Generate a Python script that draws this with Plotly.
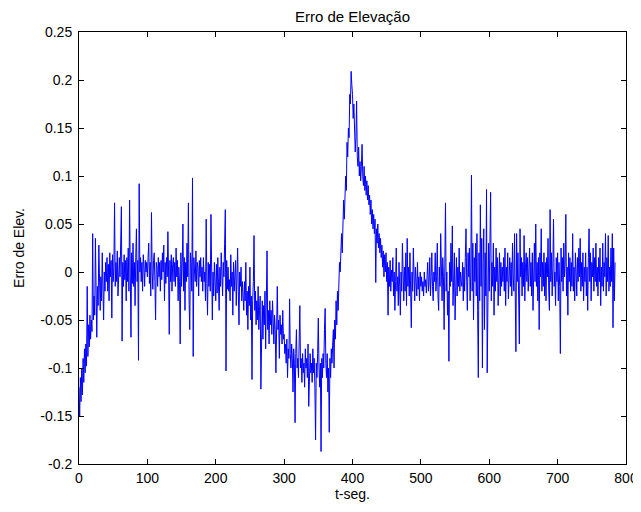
import plotly.graph_objects as go

# Estimated elevation error samples (one per second, t = 0..784 s)
erro = [
    # 0-19
    -0.120, -0.150, -0.110, -0.135, -0.100, -0.128, -0.090, -0.115, -0.080, -0.105,
    -0.075, -0.098, -0.015, -0.088, -0.055, -0.078, -0.045, -0.070, -0.050, -0.062,
    # 20-39
    0.040, -0.050, -0.025, -0.045, 0.035, -0.030, -0.068, -0.015, -0.035, 0.028,
    -0.020, -0.040, -0.005, -0.030, 0.020, -0.015, -0.050, 0.000, -0.020, 0.010,
    # 40-59
    -0.010, 0.015, -0.020, 0.008, -0.030, 0.020, -0.005, 0.012, -0.048, 0.018,
    -0.010, 0.005, 0.072, -0.015, 0.010, -0.010, 0.022, -0.025, 0.005, 0.015,
    # 60-79
    -0.005, 0.020, 0.068, -0.072, 0.010, -0.015, 0.018, -0.008, 0.012, -0.030,
    0.015, -0.010, 0.025, -0.020, 0.075, 0.000, -0.068, 0.020, -0.012, 0.030,
    # 80-99
    -0.015, 0.010, -0.035, 0.015, 0.045, -0.010, 0.012, -0.092, 0.092, 0.000,
    0.015, -0.010, 0.010, -0.020, 0.018, 0.005, -0.015, 0.012, 0.000, 0.010,
    # 100-119
    -0.005, 0.015, 0.030, -0.012, 0.010, -0.025, 0.062, 0.000, -0.018, 0.012,
    0.020, -0.010, -0.050, 0.010, 0.005, -0.015, 0.015, -0.005, 0.010, -0.020,
    # 120-139
    0.012, -0.008, 0.020, 0.000, 0.028, -0.030, 0.010, -0.012, 0.015, -0.005,
    0.042, 0.000, -0.065, 0.012, -0.010, 0.018, -0.020, 0.008, 0.015, -0.010,
    # 140-159
    0.010, -0.015, 0.025, -0.005, 0.012, -0.030, 0.005, -0.010, -0.075, 0.020,
    -0.015, 0.010, 0.050, -0.020, 0.015, -0.040, 0.010, -0.010, 0.030, -0.005,
    # 160-179
    0.072, -0.030, -0.060, 0.020, 0.010, -0.020, 0.098, -0.088, 0.015, 0.000,
    -0.010, 0.022, -0.015, 0.010, 0.005, -0.025, 0.012, -0.005, 0.015, -0.010,
    # 180-199
    0.005, -0.020, 0.015, -0.010, 0.000, -0.030, 0.055, -0.012, -0.045, 0.010,
    -0.015, 0.008, -0.020, 0.060, -0.010, -0.050, 0.000, -0.025, 0.010, -0.015,
    # 200-219
    -0.030, 0.008, -0.022, 0.015, -0.010, -0.040, 0.005, -0.015, 0.020, -0.012,
    -0.025, 0.010, -0.005, 0.030, 0.065, -0.103, 0.012, -0.018, 0.005, -0.020,
    # 220-239
    -0.008, -0.030, 0.018, -0.015, 0.000, -0.045, 0.010, -0.020, -0.005, 0.012,
    -0.035, -0.010, 0.025, -0.020, -0.055, 0.000, -0.015, 0.005, -0.030, -0.010,
    # 240-259
    -0.020, -0.040, -0.010, -0.030, 0.010, -0.045, -0.020, -0.060, -0.015, -0.035,
    0.005, -0.050, -0.025, -0.112, -0.030, -0.010, 0.038, -0.040, -0.020, -0.055,
    # 260-279
    -0.030, -0.050, -0.015, -0.060, -0.040, -0.025, -0.122, -0.045, -0.030, -0.070,
    -0.035, -0.055, -0.020, -0.080, -0.045, 0.022, -0.060, -0.040, -0.075, -0.030,
    # 280-299
    -0.055, -0.040, -0.065, -0.030, -0.050, -0.075, -0.045, -0.060, -0.105, -0.040,
    -0.015, -0.060, -0.050, -0.090, -0.045, -0.065, -0.055, -0.075, -0.040, -0.070,
    # 300-319
    -0.065, -0.085, -0.075, -0.095, -0.070, -0.110, -0.080, -0.090, -0.028, -0.085,
    -0.100, -0.075, -0.090, -0.125, -0.080, -0.095, -0.157, -0.085, -0.060, -0.100,
    # 320-339
    -0.090, -0.110, -0.080, -0.035, -0.100, -0.090, -0.115, -0.085, -0.105, -0.095,
    -0.120, -0.080, -0.100, -0.090, -0.110, -0.075, -0.140, -0.095, -0.085, -0.105,
    # 340-359
    -0.095, -0.115, -0.080, -0.105, -0.090, -0.120, -0.175, -0.095, -0.110, -0.085,
    -0.048, -0.100, -0.120, -0.095, -0.187, -0.090, -0.110, -0.085, -0.100, -0.060,
    # 360-379
    -0.038, -0.095, -0.110, -0.085, -0.125, -0.100, -0.167, -0.090, -0.110, -0.080,
    -0.095, -0.075, -0.060, -0.100, -0.050, -0.070, -0.030, -0.055, -0.020, -0.040,
    # 380-399
    -0.010, 0.010, 0.000, 0.025, 0.040, 0.020, 0.060, 0.075, 0.055, 0.095,
    0.100, 0.085, 0.135, 0.120, 0.150, 0.140, 0.185, 0.175, 0.209, 0.195,
    # 400-419
    0.185, 0.160, 0.175, 0.150, 0.125, 0.140, 0.178, 0.120, 0.110, 0.130,
    0.100, 0.115, 0.095, 0.110, 0.133, 0.100, 0.090, 0.110, 0.085, 0.100,
    # 420-439
    0.080, 0.095, 0.075, 0.090, 0.070, 0.080, 0.060, 0.075, 0.050, 0.065,
    0.045, 0.060, 0.040, 0.055, -0.011, 0.045, 0.030, 0.050, 0.025, 0.040,
    # 440-459
    0.020, 0.035, 0.015, 0.028, 0.005, 0.022, -0.005, 0.018, 0.000, 0.020,
    -0.010, 0.010, -0.045, 0.005, -0.015, 0.012, -0.020, 0.002, -0.010, 0.015,
    # 460-479
    -0.025, 0.000, -0.040, -0.010, 0.025, -0.020, -0.005, -0.035, 0.010, -0.015,
    -0.045, 0.000, -0.020, 0.030, -0.010, -0.030, 0.005, -0.020, 0.020, -0.035,
    # 480-499
    0.035, -0.015, 0.005, -0.025, 0.020, -0.010, -0.058, 0.000, -0.020, 0.025,
    -0.015, -0.030, 0.005, -0.010, -0.025, 0.010, -0.018, -0.005, -0.030, 0.000,
    # 500-519
    -0.015, -0.005, -0.020, -0.010, -0.025, 0.000, -0.015, -0.008, -0.022, -0.005,
    0.010, -0.020, -0.010, 0.015, -0.025, -0.005, 0.020, -0.015, -0.030, 0.000,
    # 520-539
    -0.010, 0.020, -0.020, -0.005, 0.030, -0.025, -0.040, 0.005, -0.015, 0.040,
    -0.010, -0.030, 0.015, -0.005, -0.060, 0.010, 0.072, -0.020, 0.000, -0.045,
    # 540-559
    -0.020, -0.093, 0.010, -0.015, 0.030, -0.010, 0.048, -0.035, -0.005, 0.020,
    -0.050, -0.010, 0.015, -0.025, 0.005, -0.015, 0.025, -0.020, 0.000, -0.010,
    # 560-579
    -0.015, 0.010, -0.030, 0.005, -0.020, 0.015, 0.045, -0.010, -0.040, 0.020,
    -0.005, 0.025, -0.030, 0.000, 0.101, -0.020, 0.030, -0.050, 0.015, -0.010,
    # 580-599
    0.030, -0.025, 0.040, -0.040, -0.110, 0.020, -0.030, 0.070, -0.015, 0.035,
    -0.100, 0.010, 0.045, -0.060, 0.020, -0.025, 0.086, -0.105, 0.005, 0.030,
    # 600-619
    -0.020, 0.015, 0.083, -0.030, 0.010, -0.015, 0.030, -0.045, 0.005, -0.020,
    0.025, -0.010, 0.015, -0.035, 0.000, 0.020, -0.025, 0.010, -0.015, 0.005,
    # 620-639
    -0.010, 0.015, -0.020, 0.025, -0.035, 0.005, -0.010, 0.020, -0.028, 0.000,
    0.015, -0.015, 0.010, -0.025, 0.030, -0.005, -0.020, 0.040, -0.010, -0.083,
    # 640-659
    0.040, -0.010, 0.020, -0.030, -0.075, 0.045, -0.005, 0.015, -0.025, 0.010,
    -0.015, 0.038, -0.030, 0.005, 0.020, -0.010, 0.015, -0.020, 0.000, 0.025,
    # 660-679
    -0.015, 0.010, -0.025, 0.020, -0.040, 0.005, 0.030, -0.010, 0.050, -0.015,
    0.010, -0.030, 0.015, -0.060, 0.020, -0.005, 0.045, -0.020, 0.010, -0.015,
    # 680-699
    0.020, -0.025, 0.010, -0.030, 0.015, -0.005, 0.035, -0.020, -0.040, 0.065,
    -0.010, 0.020, -0.025, 0.005, 0.055, -0.015, 0.000, -0.035, 0.015, -0.010,
    # 700-719
    0.020, -0.030, 0.010, -0.015, -0.085, 0.025, -0.010, 0.015, -0.020, 0.030,
    -0.005, 0.010, 0.060, -0.025, 0.005, -0.045, 0.020, -0.010, 0.015, -0.020,
    # 720-739
    0.010, -0.015, 0.040, -0.020, 0.005, -0.030, 0.020, 0.000, -0.025, 0.015,
    -0.010, 0.025, -0.005, 0.035, -0.020, 0.010, -0.015, 0.020, -0.030, 0.005,
    # 740-759
    -0.010, 0.020, -0.025, 0.005, -0.040, 0.015, 0.045, -0.010, 0.020, -0.030,
    0.010, -0.005, 0.025, -0.020, 0.015, -0.010, 0.030, -0.015, 0.005, -0.025,
    # 760-779
    0.015, -0.010, 0.025, -0.035, 0.005, -0.015, 0.030, -0.020, 0.010, -0.005,
    0.040, -0.025, 0.015, -0.010, 0.038, -0.020, 0.005, -0.015, 0.025, -0.010,
    # 780-784
    0.040, -0.058, 0.025, -0.030, 0.010,
]
t_seg = list(range(len(erro)))

x_ticks = [0, 100, 200, 300, 400, 500, 600, 700, 800]
y_ticks = [-0.2, -0.15, -0.1, -0.05, 0, 0.05, 0.1, 0.15, 0.2, 0.25]
y_tick_text = ["-0.2", "-0.15", "-0.1", "-0.05", "0", "0.05", "0.1", "0.15", "0.2", "0.25"]

fig = go.Figure()
fig.add_trace(go.Scatter(x=t_seg, y=erro, mode="lines",
                         line=dict(color="#0000ff", width=1), showlegend=False))

axis_common = dict(showline=True, linecolor="black", linewidth=1, mirror="ticks",
                   ticks="inside", ticklen=5, tickcolor="black", showgrid=False,
                   zeroline=False, automargin=False,
                   tickfont=dict(size=14, color="black"))

# The page body has an 8 px default margin; margins below compensate for it.
fig.update_layout(
    width=641, height=512,
    margin=dict(l=71, r=23, t=24, b=56),
    paper_bgcolor="white", plot_bgcolor="white",
    font=dict(family="Liberation Sans, Arial, sans-serif", size=14, color="black"),
    title=dict(text="Erro de Elevação", x=0.5, xref="paper", xanchor="center",
               y=1 - 9 / 512, yanchor="middle", yref="container",
               font=dict(size=15, color="black")),
    xaxis=dict(range=[0, 800], tickvals=x_ticks, ticklabelstandoff=1,
               title=dict(text="t-seg.", standoff=1, font=dict(size=14)),
               **axis_common),
    yaxis=dict(range=[-0.2, 0.25], tickvals=y_ticks, ticktext=y_tick_text,
               ticklabelstandoff=3,
               title=dict(text="Erro de Elev.", standoff=12, font=dict(size=14)),
               **axis_common),
)

fig.write_html("out.html")
